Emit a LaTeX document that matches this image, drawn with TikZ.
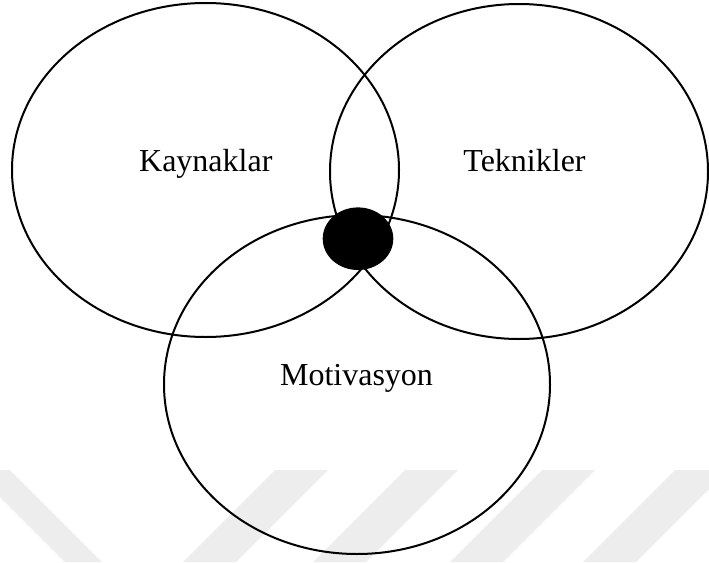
\documentclass[tikz,border=0pt]{standalone}
\usepackage{fontspec}
\setmainfont{Liberation Serif}
\usetikzlibrary{shapes.geometric}
\definecolor{wm}{RGB}{237,237,237}
\tikzset{
  circ/.style={draw=black, line width=2pt, ellipse, inner sep=0pt, outer sep=0pt},
  blob/.style={fill=black, draw=none, ellipse, inner sep=0pt, outer sep=0pt},
  lbl/.style={font=\fontsize{32}{38}\selectfont, anchor=base, inner sep=0pt},
  band/.style={fill=wm, draw=none}
}
\begin{document}
\begin{tikzpicture}[x=1pt, y=-1pt]
\useasboundingbox (0,0) rectangle (709,562);
\fill[white] (0,0) rectangle (709,562);
% faint watermark bands
\fill[band] (-27,470) -- (10,470) -- (102,562) -- (65,562) -- cycle;
\fill[band] (275,470) -- (328,470) -- (236,562) -- (183,562) -- cycle;
\fill[band] (405,470) -- (458,470) -- (366,562) -- (313,562) -- cycle;
\fill[band] (542,470) -- (595,470) -- (503,562) -- (450,562) -- cycle;
\fill[band] (675,470) -- (728,470) -- (636,562) -- (583,562) -- cycle;
% ellipses
\node[circ, minimum width=387pt, minimum height=334pt] (kay) at (205.5,170) {};
\node[circ, minimum width=378pt, minimum height=335pt] (tek) at (519,171.5) {};
\node[circ, minimum width=386pt, minimum height=339pt] (mot) at (357,384.5) {};
\node[blob, minimum width=70.6pt, minimum height=62.6pt] (core) at (358,238.7) {};
% labels
\node[lbl] (tkay) at (205.8,171.7) {Kaynaklar};
\node[lbl] (ttek) at (524.5,171.7) {Teknikler};
\node[lbl] (tmot) at (356.5,385.7) {Motivasyon};
\end{tikzpicture}
\end{document}
